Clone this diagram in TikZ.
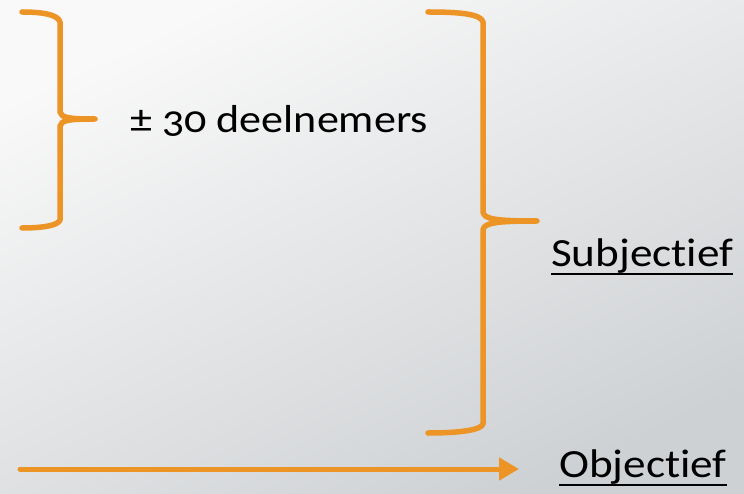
\documentclass[tikz,border=0pt]{standalone}
\usepackage{fontspec}
\setmainfont{Carlito}[Numbers=OldStyle, Ligatures=NoCommon, FakeStretch=1.13]
\usetikzlibrary{arrows.meta}
\definecolor{brace}{RGB}{237,148,38}
\definecolor{bgtop}{RGB}{249,249,249}
\definecolor{bgbot}{RGB}{206,209,212}
\tikzset{
  bracepath/.style={draw=brace, line width=5.5pt, line cap=round, line join=round},
  label/.style={inner sep=0pt, anchor=base west, font=\fontsize{40}{46}\selectfont, text=black},
  uline/.style={draw=black, line width=2.6pt},
}
\begin{document}
\begin{tikzpicture}[x=1pt, y=-1pt]
  % background panel
  \shade[shading=axis, top color=bgtop, bottom color=bgbot, shading angle=25]
    (0,0) rectangle (744,494);
  \useasboundingbox (0,0) rectangle (744,494);

  % small brace around the participant count
  \draw[bracepath] (22,12) .. controls (40,12) and (58,14) .. (60,22) -- (60,112)
    .. controls (61,118) and (70,119) .. (95,119)
    .. controls (70,119) and (61,120) .. (60,126) -- (60,220)
    .. controls (58,226) and (40,228) .. (22,228);

  % large brace leading to the subjective part
  \draw[bracepath] (428,12) .. controls (460,12) and (481,14) .. (483,22) -- (483,212)
    .. controls (484,219) and (495,221) .. (537,221)
    .. controls (495,221) and (484,223) .. (483,230) -- (483,424)
    .. controls (481,430) and (460,433) .. (428,433);

  \node[label, font=\fontsize{39}{45}\selectfont] (deel) at (130,133) {± 30 deelnemers};
  \node[label] (subj) at (551,267) {Subjectief};
  \node[label] (obj) at (559,477) {Objectief};

  % underlines of the two headings
  \draw[uline] ([yshift=-7pt]subj.base west) -- ([yshift=-7pt]subj.base east);
  \draw[uline] ([yshift=-8pt]obj.base west) -- ([yshift=-8pt]obj.base east);

  % arrow to the objective part
  \coordinate (astart) at (20,469);
  \coordinate (aend) at (519,469);
  \draw[draw=brace, line width=5pt, line cap=round,
        -{Triangle[length=20pt, width=22pt]}] (astart) -- (aend);
\end{tikzpicture}
\end{document}
